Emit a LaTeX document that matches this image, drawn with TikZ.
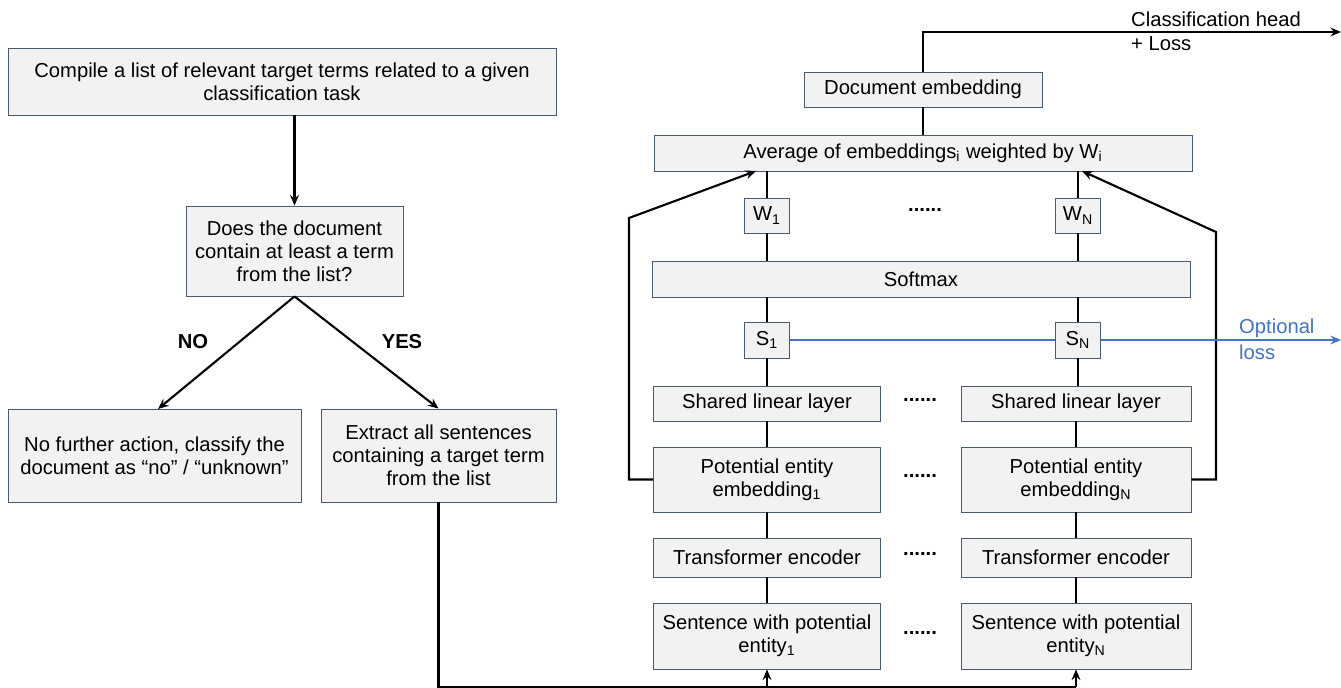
\documentclass[tikz,border=0pt]{standalone}
\usepackage{fontspec}
\setmainfont{Liberation Sans}
\usetikzlibrary{arrows.meta}
\definecolor{boxfill}{HTML}{F2F2F2}
\definecolor{boxline}{HTML}{4A5A70}
\definecolor{lossblue}{HTML}{4472C4}
\begin{document}
\begin{tikzpicture}[x=0.02cm,y=-0.02cm,
    every node/.style={font=\fontsize{11.5}{13.2}\selectfont},
    box/.style={draw=boxline,fill=boxfill,line width=0.5pt,align=center,inner sep=2pt},
    link/.style={line width=1.2pt},
    arr/.style={link,-{Stealth[length=6pt,width=5pt]}},
    dotrow/.style={font=\fontsize{11.5}{13.2}\selectfont\bfseries}]
\useasboundingbox (0,0) rectangle (1341,688);
% left part
\node[box,minimum width=10.96cm,minimum height=1.34cm] (compile) at (282,81.5) {Compile a list of relevant target terms related to a given\\classification task};
\node[box,minimum width=4.34cm,minimum height=1.8cm] (ask) at (294.5,251) {Does the document\\contain at least a term\\from the list?};
\node[box,minimum width=5.86cm,minimum height=1.86cm] (nope) at (154.5,455.5) {No further action, classify the\\document as “no” / “unknown”};
\node[box,minimum width=4.7cm,minimum height=1.86cm] (extract) at (438.5,455.5) {Extract all sentences\\containing a target term\\from the list};
\node[font=\fontsize{11.5}{13.2}\selectfont\bfseries] (no) at (193,342) {NO};
\node[font=\fontsize{11.5}{13.2}\selectfont\bfseries] (yes) at (402,342) {YES};
\draw[arr] (ask.north |- compile.south) -- (ask.north);
\draw[arr] (ask.south) -- (158,409);
\draw[arr] (ask.south) -- (extract.north);
% right part
\node[box,minimum width=4.76cm,minimum height=0.7cm] (docemb) at (923,89.5) {Document embedding};
\node[box,minimum width=10.76cm,minimum height=0.72cm] (avg) at (923,153) {Average of embeddings\textsubscript{i} weighted by W\textsubscript{i}};
\node[box,minimum width=0.9cm,minimum height=0.7cm] (w1) at (767,215.5) {W\textsubscript{1}};
\node[box,minimum width=0.9cm,minimum height=0.7cm] (wn) at (1078,215.5) {W\textsubscript{N}};
\node[box,minimum width=10.76cm,minimum height=0.72cm] (softmax) at (921,279) {Softmax};
\node[box,minimum width=0.9cm,minimum height=0.72cm] (s1) at (767,340) {S\textsubscript{1}};
\node[box,minimum width=0.9cm,minimum height=0.72cm] (sn) at (1078,340) {S\textsubscript{N}};
\node[box,minimum width=4.54cm,minimum height=0.7cm] (lin1) at (767,403.5) {Shared linear layer};
\node[box,minimum width=4.6cm,minimum height=0.7cm] (linn) at (1076,403.5) {Shared linear layer};
\node[box,minimum width=4.54cm,minimum height=1.3cm] (pot1) at (767,479.5) {Potential entity\\embedding\textsubscript{1}};
\node[box,minimum width=4.6cm,minimum height=1.3cm] (potn) at (1076,479.5) {Potential entity\\embedding\textsubscript{N}};
\node[box,minimum width=4.54cm,minimum height=0.78cm] (enc1) at (767,557.5) {Transformer encoder};
\node[box,minimum width=4.6cm,minimum height=0.78cm] (encn) at (1076,557.5) {Transformer encoder};
\node[box,minimum width=4.54cm,minimum height=1.32cm] (sent1) at (767,636) {Sentence with potential\\entity\textsubscript{1}};
\node[box,minimum width=4.6cm,minimum height=1.32cm] (sentn) at (1076,636) {Sentence with potential\\entity\textsubscript{N}};
\node[dotrow] (dotsw) at (925,210) {......};
\node[dotrow] (dotsl) at (920,400) {......};
\node[dotrow] (dotsp) at (920,476) {......};
\node[dotrow] (dotse) at (920,554) {......};
\node[dotrow] (dotss) at (920,633) {......};
% columns
\foreach \c/\n in {1/1,n/N}{
  \draw[link] (sent\c) -- (enc\c);
  \draw[link] (enc\c) -- (pot\c);
  \draw[link] (pot\c) -- (lin\c);
  \draw[link] (lin\c.north -| s\c) -- (s\c);
  \draw[link] (s\c.north) -- (s\c.north |- softmax.south);
  \draw[link] (w\c.south |- softmax.north) -- (w\c.south);
  \draw[link] (w\c.north) -- (w\c.north |- avg.south);
}
\draw[link] (avg) -- (docemb);
% output
\coordinate (headend) at (1341,32);
\draw[arr] (docemb.north) |- (headend);
\node[anchor=west] (head) at (1125,19) {Classification head};
\node[anchor=west] (loss) at (1125,44) {+ Loss};
% feedback
\coordinate (fb1) at (629,218);
\coordinate (in1) at (756,171);
\coordinate (fbn) at (1216,232);
\coordinate (inn) at (1082,171);
\draw[arr] (pot1.west) -- (fb1 |- pot1.west) -- (fb1) -- (in1);
\draw[arr] (potn.east) -- (fbn |- potn.east) -- (fbn) -- (inn);
% sentences in
\coordinate (base) at (0,687);
\draw[link] (extract.south) -- (extract.south |- base) -- (sentn.south |- base);
\draw[arr] (sent1.south |- base) -- (sent1.south);
\draw[arr] (sentn.south |- base) -- (sentn.south);
% optional loss
\coordinate (lossend) at (1341,340);
\draw[link,lossblue,line width=1.1pt] (s1) -- (sn);
\draw[arr,lossblue,line width=1.1pt] (sn) -- (lossend);
\node[lossblue,anchor=west] (opt) at (1233,328) {Optional};
\node[lossblue,anchor=west] (optl) at (1233,352) {loss};
\end{tikzpicture}
\end{document}
